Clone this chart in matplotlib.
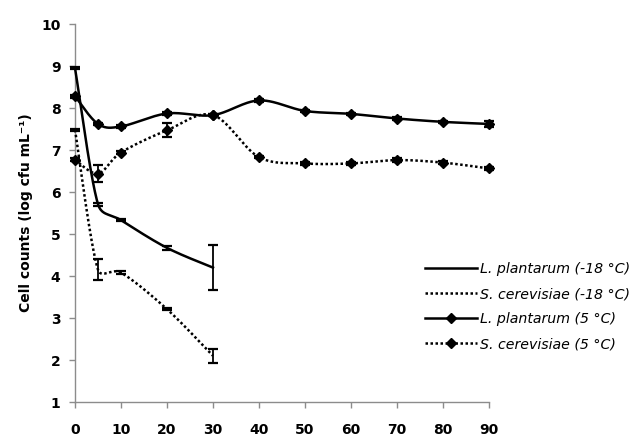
import numpy as np
import matplotlib
matplotlib.use("Agg")
import matplotlib.pyplot as plt

# ==========================
# Data
# ==========================
days_frozen = [0, 5, 10, 20, 30]
lp_frozen = [8.95, 5.71, 5.33, 4.67, 4.20]
lp_frozen_err = [0.03, 0.04, 0.03, 0.05, 0.53]
sc_frozen = [7.48, 4.15, 4.08, 3.21, 2.10]
sc_frozen_err = [0.02, 0.25, 0.03, 0.02, 0.17]

days_cold = [0, 5, 10, 20, 30, 40, 50, 60, 70, 80, 90]
lp_cold = [8.28, 7.62, 7.56, 7.87, 7.83, 8.18, 7.93, 7.86, 7.75, 7.67, 7.62]
lp_cold_err = [0.03, 0.03, 0.03, 0.03, 0.03, 0.03, 0.03, 0.03, 0.03, 0.03, 0.07]
sc_cold = [6.77, 6.44, 6.94, 7.47, 7.83, 6.83, 6.68, 6.68, 6.76, 6.70, 6.56]
sc_cold_err = [0.03, 0.20, 0.03, 0.17, 0.03, 0.03, 0.03, 0.03, 0.05, 0.03, 0.03]

labels = ["L. plantarum (-18 °C)", "S. cerevisiae (-18 °C)",
          "L. plantarum (5 °C)", "S. cerevisiae (5 °C)"]

plt.rcParams['font.family'] = ['DejaVu Sans']

W, H = 637, 437
fig = plt.figure(figsize=(W / 100, H / 100), dpi=100)
ax = fig.add_axes([75 / W, 1 - 402 / H, (489 - 75) / W, (402 - 24) / H])
ax.set_xlim(0, 90)
ax.set_ylim(1, 10)

# pixel scale so smoothing behaves like Excel's smoothed lines
sx = (489 - 75) / 90.0
sy = (402 - 24) / 9.0


def smooth(x, y, n=40):
    # Catmull-Rom style bezier, control arms limited on short segments
    P = np.column_stack([np.asarray(x, float) * sx, np.asarray(y, float) * sy])
    out = []
    for i in range(len(P) - 1):
        p0 = P[max(i - 1, 0)]
        p1 = P[i]
        p2 = P[i + 1]
        p3 = P[min(i + 2, len(P) - 1)]
        d12 = np.hypot(*(p2 - p1))
        a1 = (p2 - p0) / 6.0
        a2 = (p3 - p1) / 6.0
        lim = 0.45 * d12
        if np.hypot(*a1) > lim:
            a1 = a1 * lim / np.hypot(*a1)
        if np.hypot(*a2) > lim:
            a2 = a2 * lim / np.hypot(*a2)
        c1 = p1 + a1
        c2 = p2 - a2
        t = np.linspace(0, 1, n)[:, None]
        seg = ((1 - t) ** 3) * p1 + 3 * t * (1 - t) ** 2 * c1 + 3 * t ** 2 * (1 - t) * c2 + t ** 3 * p2
        out.append(seg if i == 0 else seg[1:])
    out = np.vstack(out)
    return out[:, 0] / sx, out[:, 1] / sy


lw = 1.8
dotted = (0, (1, 1))

series = [
    (days_frozen, lp_frozen, lp_frozen_err, '-', None),
    (days_frozen, sc_frozen, sc_frozen_err, dotted, None),
    (days_cold, lp_cold, lp_cold_err, '-', 'D'),
    (days_cold, sc_cold, sc_cold_err, dotted, 'D'),
]

handles = []
for (x, y, e, ls, mk), lab in zip(series, labels):
    xs, ys = smooth(x, y)
    ax.plot(xs, ys, color='black', lw=lw, linestyle=ls, zorder=3, clip_on=False)
    eb = ax.errorbar(x, y, yerr=e, fmt='none', ecolor='black', elinewidth=1.3,
                     capsize=3.5, capthick=1.6, zorder=4)
    for art in eb.lines[1] + eb.lines[2]:
        art.set_clip_on(False)
    if mk:
        ax.plot(x, y, linestyle='none', marker=mk, markersize=5, color='black',
                zorder=5, clip_on=False)
    h, = ax.plot([], [], color='black', lw=lw, linestyle=ls, marker=mk, markersize=5)
    handles.append(h)

# ==========================
# Axes styling
# ==========================
for s in ['top', 'right']:
    ax.spines[s].set_visible(False)
for s in ['left', 'bottom']:
    ax.spines[s].set_color('#8c8c8c')
    ax.spines[s].set_linewidth(1.0)

ax.set_xticks(range(0, 91, 10))
ax.set_yticks(range(1, 11))
ax.tick_params(axis='both', direction='out', length=4, width=1.0, color='#8c8c8c',
               labelsize=10)
ax.tick_params(axis='y', pad=6.5)
ax.tick_params(axis='x', pad=11)
for t in ax.get_xticklabels() + ax.get_yticklabels():
    t.set_fontweight('bold')

ax.set_ylabel("Cell counts (log cfu mL⁻¹)", fontsize=10, fontweight='bold')
ax.yaxis.set_label_coords((33 - 75) / 414, 0.5)

fig.legend(handles, labels, loc='upper left', bbox_to_anchor=(425 / W, 1 - 262 / H),
           frameon=False, borderpad=0, borderaxespad=0, handlelength=3.7,
           handletextpad=0.15, labelspacing=0.78,
           prop={'style': 'italic', 'size': 10.2})

plt.savefig("out.png", dpi=100)
